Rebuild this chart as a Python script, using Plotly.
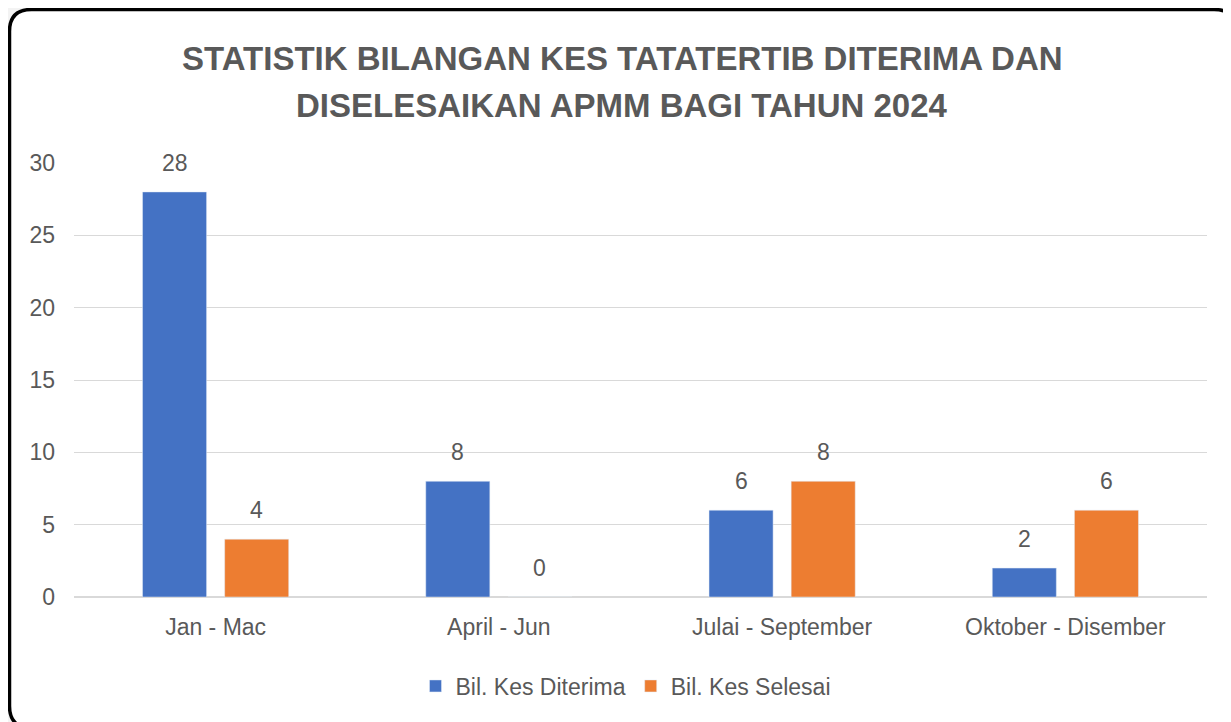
import plotly.graph_objects as go

categories = ["Jan - Mac", "April - Jun", "Julai - September", "Oktober - Disember"]
diterima = [28, 8, 6, 2]
selesai = [4, 0, 8, 6]
series_names = ["Bil. Kes Diterima", "Bil. Kes Selesai"]
y_ticks = [0, 5, 10, 15, 20, 25, 30]
title_lines = ["STATISTIK BILANGAN KES TATATERTIB DITERIMA DAN",
               "DISELESAIKAN APMM BAGI TAHUN 2024"]

# page body has 8px default margin: work in page coords, convert to figure coords
OFF = 8
W, H = 1231, 722
PL, PR, PT, PB = 74, 1207, 163, 597  # plot area in page coords
ML, MT = PL - OFF, PT - OFF
MR = W - (PR - OFF)
MB = H - (PB - OFF)
PW, PH = W - ML - MR, H - MT - MB

def px(x):
    return (x - OFF - ML) / PW

def py(y):
    return (H - MB - (y - OFF)) / PH

TXT = "#595959"
FONT = "Liberation Sans Narrow, Liberation Sans, Arial, sans-serif"

fig = go.Figure()
fig.add_trace(go.Bar(x=categories, y=diterima, name=series_names[0],
                     marker_color="#4472C4"))
fig.add_trace(go.Bar(x=categories, y=selesai, name=series_names[1],
                     marker_color="#ED7D31"))

annotations = []
for vals, shift in [(diterima, -41), (selesai, 41)]:
    for c, v in zip(categories, vals):
        annotations.append(dict(x=c, y=v, xref="x", yref="y", text=str(v),
                                showarrow=False, xshift=shift, yshift=29,
                                font=dict(size=23, color=TXT, family=FONT)))
for i, line in enumerate(title_lines):
    annotations.append(dict(x=px(622), y=py([58, 106][i]), xref="paper", yref="paper",
                            text="<b>" + line + "</b>", showarrow=False,
                            xanchor="center", yanchor="middle",
                            font=dict(size=33, color=TXT, family=FONT)))

# rounded border
x0, x1, y0, y1, r = 9.5, 1236, 9.5, 728, 22
def P(x, y):
    return f"{px(x):.5f},{py(y):.5f}"
path = (f"M {P(x0 + r, y0)} L {P(x1 - r, y0)} Q {P(x1, y0)} {P(x1, y0 + r)} "
        f"L {P(x1, y1 - r)} Q {P(x1, y1)} {P(x1 - r, y1)} "
        f"L {P(x0 + r, y1)} Q {P(x0, y1)} {P(x0, y1 - r)} "
        f"L {P(x0, y0 + r)} Q {P(x0, y0)} {P(x0 + r, y0)} Z")

fig.update_layout(
    width=W, height=H,
    margin=dict(l=ML, r=MR, t=MT, b=MB),
    paper_bgcolor="#f3f3f3",
    plot_bgcolor="rgba(0,0,0,0)",
    barmode="group", bargap=0.42, bargroupgap=0.22,
    font=dict(family=FONT, color=TXT, size=23),
    showlegend=True,
    legend=dict(orientation="h", x=px(618 + OFF), xanchor="center", y=py(686),
                yanchor="middle", font=dict(size=23, color=TXT, family=FONT),
                itemwidth=30, bgcolor="rgba(0,0,0,0)"),
    annotations=annotations,
    shapes=[dict(type="path", path=path, xref="paper", yref="paper",
                 line=dict(color="black", width=3.5), fillcolor="white",
                 layer="below")],
)
fig.update_yaxes(range=[0, 30], tickvals=y_ticks, showgrid=True, gridcolor="#d9d9d9",
                 gridwidth=1, zeroline=True, zerolinecolor="#d9d9d9", showline=False,
                 ticks="", ticklabelstandoff=18,
                 tickfont=dict(size=23, color=TXT, family=FONT))
fig.update_xaxes(showgrid=False, showline=False, ticks="", ticklabelstandoff=14,
                 tickfont=dict(size=23, color=TXT, family=FONT))

fig.write_html("out.html")
